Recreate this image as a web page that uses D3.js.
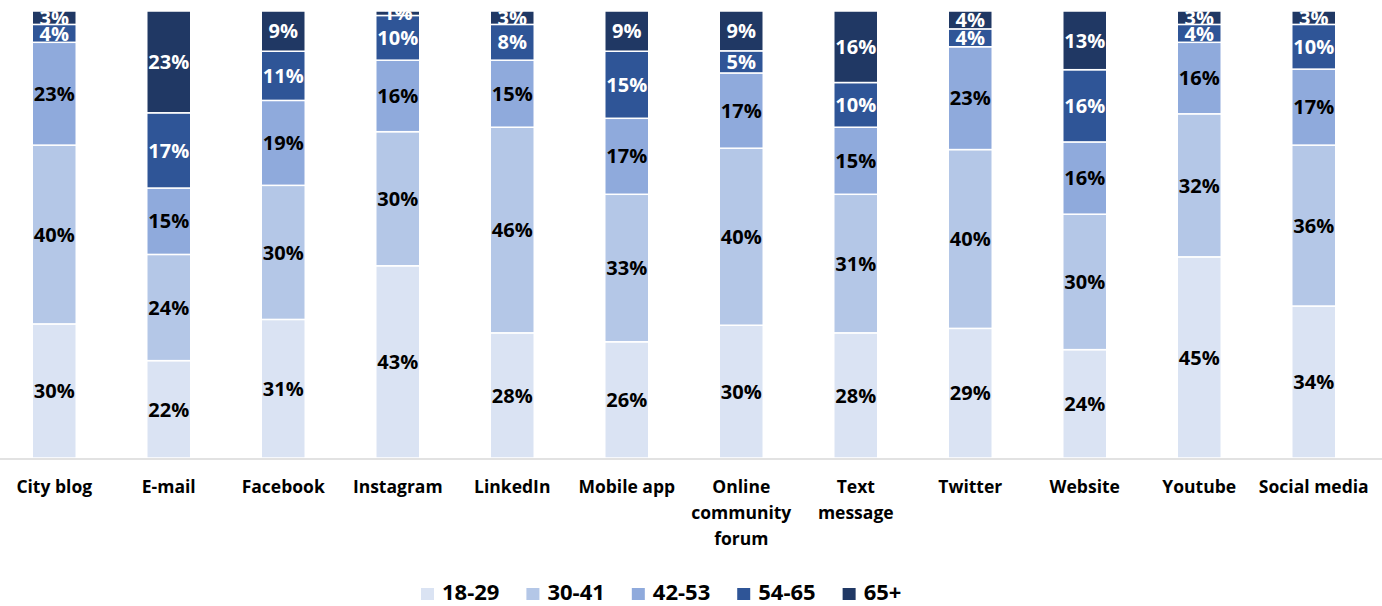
<!DOCTYPE html>
<html><head><meta charset="utf-8">
<script src="https://cdn.jsdelivr.net/npm/d3@7"></script>
<style>body{margin:0;background:#fff}svg{display:block}</style>
</head><body><svg id="c" width="1382" height="606"></svg>
<script>
const categories = ["City blog","E-mail","Facebook","Instagram","LinkedIn","Mobile app","Online community forum","Text message","Twitter","Website","Youtube","Social media"];
const categoryLines = [["City blog"],["E-mail"],["Facebook"],["Instagram"],["LinkedIn"],["Mobile app"],["Online","community","forum"],["Text","message"],["Twitter"],["Website"],["Youtube"],["Social media"]];
const seriesNames = ["18-29","30-41","42-53","54-65","65+"];
const s18_29 = [30,22,31,43,28,26,30,28,29,24,45,34];
const s30_41 = [40,24,30,30,46,33,40,31,40,30,32,36];
const s42_53 = [23,15,19,16,15,17,17,15,23,16,16,17];
const s54_65 = [4,17,11,10,8,15,5,10,4,16,4,10];
const s65p   = [3,23,9,1,3,9,9,16,4,13,3,3];
const colors = ["#dae3f3","#b4c7e7","#8faadc","#2f5597","#203864"];
const labelColors = ["#000","#000","#000","#fff","#fff"];

const series = [s18_29,s30_41,s42_53,s54_65,s65p];
const rows = categories.map((c,i)=>{
  const r = {cat:c};
  const tot = d3.sum(series, s=>s[i]);
  seriesNames.forEach((n,k)=>{ r[n]=series[k][i]/tot; r["raw_"+n]=series[k][i]; });
  return r;
});
const stack = d3.stack().keys(seriesNames)(rows);

const svg = d3.select("#c");
const font = "'Open Sans', sans-serif";
const x = d3.scaleBand().domain(categories).range([-3,1371]).padding(0);
const bw = 44;
const y = d3.scaleLinear().domain([0,1]).range([458,11]);

const g = svg.append("g");
stack.forEach((layer,k)=>{
  const gl = g.append("g");
  gl.selectAll("rect").data(layer).enter().append("rect")
    .attr("x", d=>x(d.data.cat)+x.bandwidth()/2-bw/2)
    .attr("width", bw)
    .attr("y", d=>y(d[1]))
    .attr("height", d=>y(d[0])-y(d[1]))
    .attr("fill", colors[k])
    .attr("stroke","#fff").attr("stroke-width",1.5);
  gl.selectAll("text").data(layer).enter().append("text")
    .attr("x", d=>x(d.data.cat)+x.bandwidth()/2)
    .attr("y", d=>(y(d[0])+y(d[1]))/2)
    .attr("dy","0.36em")
    .attr("text-anchor","middle")
    .attr("font-family",font).attr("font-weight",700).attr("font-size",20)
    .attr("fill",labelColors[k])
    .text(d=>d.data["raw_"+seriesNames[k]]+"%");
});

// axis
const ax = svg.append("g").attr("transform","translate(0,459)")
  .call(d3.axisBottom(x).tickSize(0).tickFormat(""));
ax.select(".domain").attr("stroke","#d9d9d9").attr("stroke-width",1.5).attr("d","M0,0H1382");
categories.forEach((c,i)=>{
  const t = svg.append("text").attr("text-anchor","middle")
    .attr("font-family",font).attr("font-weight",700).attr("font-size",17.5).attr("fill","#000");
  categoryLines[i].forEach((ln,j)=>{
    t.append("tspan").attr("x", x(c)+x.bandwidth()/2).attr("y", 493+j*26).text(ln);
  });
});

// legend
const lg = svg.append("g");
let lx = 421;
seriesNames.forEach((n,k)=>{
  lg.append("rect").attr("x",lx).attr("y",588).attr("width",13).attr("height",12).attr("fill",colors[k]);
  const t = lg.append("text").attr("x",lx+21).attr("y",600)
    .attr("font-family",font).attr("font-weight",700).attr("font-size",22).attr("fill","#000").text(n);
  lx += 21 + t.node().getComputedTextLength() + 27;
});
</script></body></html>
